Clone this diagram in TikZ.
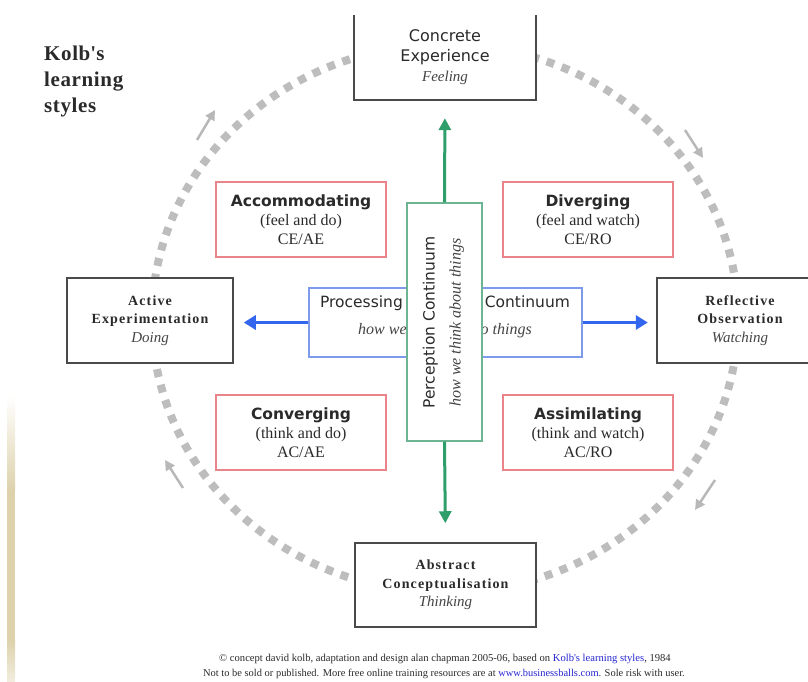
\documentclass[tikz,border=0pt]{standalone}
\usepackage{fontspec}
\setmainfont{Liberation Serif}
\newfontfamily\vsans{DejaVu Sans}
\newfontfamily\spserif[LetterSpace=8]{Liberation Serif}
\newfontfamily\titleserif[LetterSpace=3]{Liberation Serif}
\usetikzlibrary{arrows.meta}
\definecolor{redc}{HTML}{E8848A}
\definecolor{greenbox}{HTML}{6DB592}
\definecolor{greenarrow}{HTML}{2E9E6B}
\definecolor{bluebox}{HTML}{7D9BEA}
\definecolor{bluearrow}{HTML}{3366EE}
\definecolor{boxgray}{HTML}{4A4A4A}
\definecolor{dotgray}{HTML}{BDBDBD}
\definecolor{arrowgray}{HTML}{B8B8B8}
\definecolor{tanc}{HTML}{DED2AC}
\definecolor{textgray}{HTML}{2A2A2A}
\definecolor{italgray}{HTML}{444444}
\definecolor{linkblue}{HTML}{2525D0}
\begin{document}
\begin{tikzpicture}[x=1pt,y=-1pt,
  blackbox/.style={fill=white, draw=boxgray, line width=1.5pt, inner sep=0pt, align=center, text=textgray},
  blackframe/.style={draw=boxgray, line width=1.5pt},
  redbox/.style={fill=white, draw=redc, line width=1.5pt, inner sep=0pt, align=center, text=textgray,
     minimum width=170pt, minimum height=75pt, font=\fontsize{16}{19}\selectfont},
  bluebox/.style={fill=white, draw=bluebox, line width=1.3pt, inner sep=0pt, minimum width=273pt, minimum height=69pt},
  greenboxs/.style={fill=white, draw=greenbox, line width=1.3pt, inner sep=0pt, minimum width=75pt, minimum height=238pt},
  garrow/.style={draw=greenarrow, line width=3pt, -{Triangle[length=12pt,width=12pt]}},
  barrow/.style={draw=bluearrow, line width=3pt, -{Triangle[length=12pt,width=14pt]}},
  grayarrow/.style={draw=arrowgray, line width=2.5pt, -{Triangle[length=10pt,width=10pt]}},
  dotring/.style={draw=dotgray, line width=8pt, dash pattern=on 8pt off 8pt},
  plain/.style={inner sep=0pt, text=textgray}
]
\useasboundingbox (0,0) rectangle (808,682);

% left decorative strip
\shade[top color=white, bottom color=tanc] (7,395) rectangle (15,490);
\fill[tanc] (7,490) rectangle (15,640);
\shade[top color=tanc, bottom color=white!60!tanc] (7,640) rectangle (15,682);

% dotted cycle
\draw[dotring] (445,318.5) ellipse [x radius=293, y radius=274];

% cycle arrows
\coordinate (tla) at (197,140); \coordinate (tlb) at (215,110);
\coordinate (tra) at (685,130); \coordinate (trb) at (703,158);
\coordinate (bla) at (183,488); \coordinate (blb) at (165,460);
\coordinate (bra) at (715,480); \coordinate (brb) at (695,510);
\draw[grayarrow] (tla) -- (tlb);
\draw[grayarrow] (tra) -- (trb);
\draw[grayarrow] (bla) -- (blb);
\draw[grayarrow] (bra) -- (brb);

% learning styles
\node[redbox] (acc) at (301,219.5) {{\vsans\bfseries\fontsize{15.5}{19}\selectfont Accommodating}\\(feel and do)\\CE/AE};
\node[redbox] (div) at (588,219.5) {{\vsans\bfseries\fontsize{15.5}{19}\selectfont Diverging}\\(feel and watch)\\CE/RO};
\node[redbox] (con) at (301,432.5) {{\vsans\bfseries\fontsize{15.5}{19}\selectfont Converging}\\(think and do)\\AC/AE};
\node[redbox] (ass) at (588,432.5) {{\vsans\bfseries\fontsize{15.5}{19}\selectfont Assimilating}\\(think and watch)\\AC/RO};

% processing continuum
\node[bluebox] (proc) at (445.5,322.5) {};
\node[plain, align=center, font=\fontsize{16}{19}\selectfont] (proctext) at (445,317)
  {{\vsans\fontsize{15.5}{19}\selectfont Processing\hspace{82pt}Continuum}\\[8pt]{\itshape\color{italgray}how we\hspace{66pt}do things}};

% perception continuum
\node[greenboxs] (perc) at (444.5,322) {};
\node[plain, rotate=90, align=center, font=\fontsize{16}{19}\selectfont] (perctext) at (443.5,322.5)
  {{\vsans\fontsize{15.5}{19}\selectfont Perception Continuum}\\[7pt]{\itshape\color{italgray}how we think about things}};

% stage boxes
\coordinate (rightedge) at (807.5,0);
\node[fill=white, inner sep=0pt, minimum width=182pt, minimum height=85pt, align=center, text=textgray, font=\fontsize{16}{20}\selectfont] (ce) at (445,57.5)
  {{\vsans Concrete}\\{\vsans Experience}\\{\itshape\color{italgray}\fontsize{15}{20}\selectfont Feeling}};
\draw[blackframe] (ce.north west) -- (ce.south west) -- (ce.south east) -- (ce.north east);

\node[blackbox, minimum width=166pt, minimum height=85pt, font=\fontsize{14}{18.5}\selectfont] (ae) at (150,320.5)
  {{\spserif\bfseries Active}\\{\spserif\bfseries Experimentation}\\{\itshape\color{italgray}\fontsize{15}{18.5}\selectfont Doing}};

\node[fill=white, inner sep=0pt, minimum width=166pt, minimum height=85pt, align=center, text=textgray, font=\fontsize{14}{18.5}\selectfont] (ro) at (740,320.5)
  {{\spserif\bfseries Reflective}\\{\spserif\bfseries Observation}\\{\itshape\color{italgray}\fontsize{15}{18.5}\selectfont Watching}};
\draw[blackframe] (ro.north -| rightedge) -- (ro.north west) -- (ro.south west) -- (ro.south -| rightedge);

\node[blackbox, minimum width=181pt, minimum height=84pt, font=\fontsize{14}{18.5}\selectfont] (ac) at (445.5,585)
  {{\spserif\bfseries Abstract}\\{\spserif\bfseries Conceptualisation}\\{\itshape\color{italgray}\fontsize{15}{18.5}\selectfont Thinking}};

% continuum arrows
\draw[garrow, shorten >=18pt] (perc.north) -- (ce.south);
\draw[garrow, shorten >=19pt] (perc.south) -- (ac.north);
\draw[barrow, shorten >=10pt] (proc.west) -- (proc.west -| ae.east);
\draw[barrow, shorten >=9pt] (proc.east) -- (proc.east -| ro.west);

% title
\node[plain, anchor=base west, font=\titleserif\bfseries\fontsize{21}{26}\selectfont] (t1) at (44,61) {Kolb\textquotesingle s};
\node[plain, anchor=base west, font=\titleserif\bfseries\fontsize{21}{26}\selectfont] (t2) at (44,87) {learning};
\node[plain, anchor=base west, font=\titleserif\bfseries\fontsize{21}{26}\selectfont] (t3) at (44,113) {styles};

% footer
\node[plain, anchor=base, font=\fontsize{10.6}{12}\selectfont] (f1) at (445,661)
  {\textcopyright{} concept david kolb, adaptation and design alan chapman 2005-06, based on \textcolor{linkblue}{Kolb\textquotesingle s learning styles}, 1984};
\node[plain, anchor=base, font=\fontsize{10.45}{12}\selectfont] (f2) at (444,676)
  {Not to be sold or published. More free online training resources are at \textcolor{linkblue}{www.businessballs.com}. Sole risk with user.};
\end{tikzpicture}
\end{document}
